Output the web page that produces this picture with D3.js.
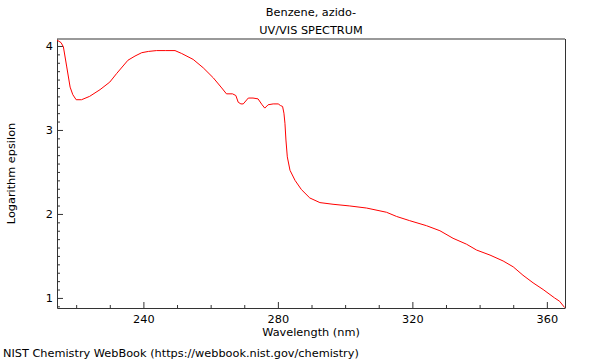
<!DOCTYPE html>
<html><head><meta charset="utf-8">
<script src="https://cdn.jsdelivr.net/npm/d3@7"></script>
<style>body{margin:0;background:#fff}svg{display:block}text{font-family:"DejaVu Sans",sans-serif;fill:#000}</style>
</head><body>
<svg id="c" width="600" height="360"></svg>
<script>
const wavelength = [214.3,215.5,216.2,217.2,218.2,219.0,220.0,221.6,224,227.1,230,232.0,235.4,237.5,239.5,241.5,243.9,246.5,249.4,251.4,254.8,257.8,260.8,263.3,264.7,266.5,267.5,268.2,269.0,269.7,271.2,272.6,274.1,275.3,276.1,277.1,278.6,280.1,280.8,281.4,281.8,282.1,282.4,282.8,283.6,285.1,287.0,289.5,292.5,296.4,301.4,306.4,312.3,315.3,319.2,324.2,328.2,332.1,336.1,339.1,343.1,347.0,350.0,352.9,355.9,358.9,362.3,363.8,365.3];
const logEpsilon = [4.07,4.04,3.99,3.75,3.51,3.42,3.36,3.36,3.40,3.48,3.57,3.67,3.83,3.88,3.92,3.935,3.945,3.945,3.945,3.91,3.84,3.74,3.62,3.50,3.43,3.43,3.41,3.33,3.31,3.31,3.38,3.38,3.37,3.30,3.26,3.30,3.31,3.31,3.29,3.28,3.20,3.08,2.88,2.68,2.52,2.40,2.29,2.19,2.135,2.115,2.095,2.07,2.02,1.97,1.92,1.86,1.80,1.71,1.64,1.57,1.51,1.44,1.37,1.27,1.18,1.10,1.00,0.96,0.885];
const xMajorTicks = [240,280,320,360];
const xMinorTicks = [220,230,250,260,270,290,300,310,330,340,350];
const yMajorTicks = [1,2,3,4];
const yMinorTicks = d3.range(9,41).map(d=>d/10).filter(d=>!yMajorTicks.includes(d));
const titleLines = ["Benzene, azido-","UV/VIS SPECTRUM"];
const xLabel = "Wavelength (nm)";
const yLabel = "Logarithm epsilon";
const footer = "NIST Chemistry WebBook (https://webbook.nist.gov/chemistry)";

const FS = 11.3;
const L=57,R=565,T=39,B=308;
const svg=d3.select("#c");
const x=d3.scaleLinear().domain([214.3,365.4]).range([L,R]);
const y=d3.scaleLinear().domain([0.88,4.083]).range([B,T]);

// frame
svg.append("line").attr("x1",L).attr("x2",R).attr("y1",T).attr("y2",T).attr("stroke","#999").attr("stroke-width",2);
svg.append("line").attr("x1",R+0.5).attr("x2",R+0.5).attr("y1",T).attr("y2",B).attr("stroke","#333").attr("stroke-width",1);

// x axis
const gx=svg.append("g").attr("transform",`translate(0,${B})`);
gx.call(d3.axisBottom(x).tickValues(xMajorTicks).tickSizeInner(-6).tickSizeOuter(0).tickPadding(7).tickFormat(d3.format("d")));
gx.append("g").call(g=>g.selectAll("line.minor").data(xMinorTicks).join("line").attr("x1",d=>x(d)+0.5).attr("x2",d=>x(d)+0.5).attr("y1",0).attr("y2",-3).attr("stroke","#333"));
// y axis
const gy=svg.append("g").attr("transform",`translate(${L},0)`);
gy.call(d3.axisLeft(y).tickValues(yMajorTicks).tickSizeInner(-6).tickSizeOuter(0).tickPadding(4).tickFormat(d3.format("d")));
gy.append("g").call(g=>g.selectAll("line.minor").data(yMinorTicks).join("line").attr("y1",d=>y(d)+0.5).attr("y2",d=>y(d)+0.5).attr("x1",0).attr("x2",3).attr("stroke","#333"));
svg.selectAll(".domain").attr("stroke","#333");
svg.selectAll(".tick line").attr("stroke","#333");
svg.selectAll(".tick text").attr("font-size",FS).attr("font-family","DejaVu Sans");

// curve
svg.append("path").datum(wavelength.map((w,i)=>[w,logEpsilon[i]]))
  .attr("fill","none").attr("stroke","#ff0000").attr("stroke-width",1)
  .attr("d",d3.line().x(d=>x(d[0])).y(d=>y(d[1])));

// texts
svg.selectAll("text.title").data(titleLines).join("text").attr("class","title")
  .attr("x",(L+R)/2).attr("y",(d,i)=>16+i*18).attr("text-anchor","middle").attr("font-size",FS).text(d=>d);
svg.append("text").attr("x",(L+R)/2).attr("y",336).attr("text-anchor","middle").attr("font-size",FS).text(xLabel);
svg.append("text").attr("transform",`translate(15,${(T+B)/2}) rotate(-90)`).attr("text-anchor","middle").attr("font-size",FS).text(yLabel);
svg.append("text").attr("x",3).attr("y",357).attr("font-size",FS).text(footer);
</script></body></html>
